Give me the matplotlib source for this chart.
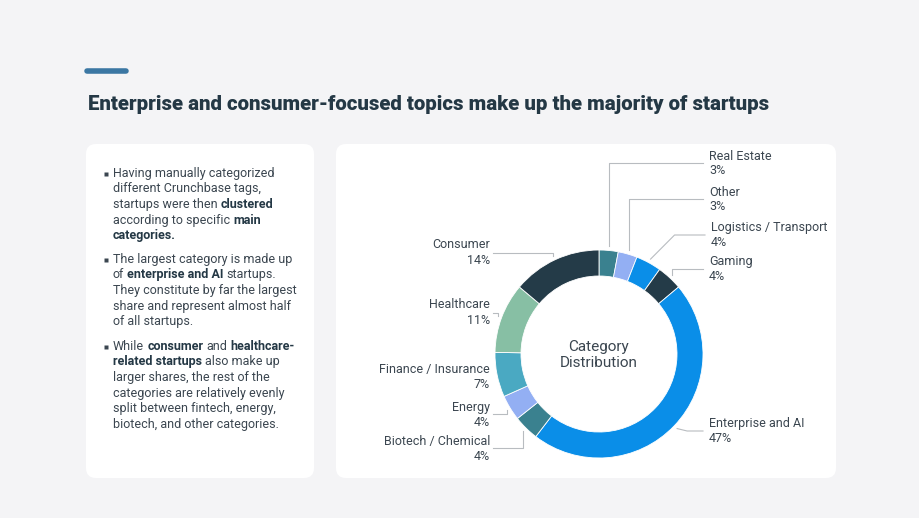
import numpy as np
import matplotlib.pyplot as plt
from matplotlib.patches import FancyBboxPatch

plt.rcParams['font.family'] = ['Roboto', 'DejaVu Sans']

# data
categories = ["Real Estate", "Other", "Logistics / Transport", "Gaming", "Enterprise and AI",
              "Biotech / Chemical", "Energy", "Finance / Insurance", "Healthcare", "Consumer"]
shares = [3, 3, 4, 4, 47, 4, 4, 7, 11, 14]
colors = ["#3a818f", "#93aff3", "#0a8ee8", "#243b48", "#0a8ee8",
          "#3a818f", "#93aff3", "#4aa9c2", "#87bfa4", "#243b48"]

title = "Enterprise and consumer-focused topics make up the majority of startups"
center_label = "Category\nDistribution"

# bullet text: each line is a list of (text, bold)
bullets = [
    [[("Having manually categorized", False)],
     [("different Crunchbase tags,", False)],
     [("startups were then ", False), ("clustered", True)],
     [("according to specific ", False), ("main", True)],
     [("categories.", True)]],
    [[("The largest category is made up", False)],
     [("of ", False), ("enterprise and AI", True), (" startups.", False)],
     [("They constitute by far the largest", False)],
     [("share and represent almost half", False)],
     [("of all startups.", False)]],
    [[("While ", False), ("consumer", True), (" and ", False), ("healthcare-", True)],
     [("related startups", True), (" also make up", False)],
     [("larger shares, the rest of the", False)],
     [("categories are relatively evenly", False)],
     [("split between fintech, energy,", False)],
     [("biotech, and other categories.", False)]],
]

# label layout: side, text x, name line y, leader y, elbow dx
label_layout = {
    "Real Estate": ("R", 709, 156, 163, 0),
    "Other": ("R", 709, 192, 199, 0),
    "Logistics / Transport": ("R", 711, 228, 235, 24),
    "Gaming": ("R", 709, 262, 269, 0),
    "Enterprise and AI": ("R", 709, 424, 431, 10),
    "Biotech / Chemical": ("L", 490, 442, 448, 0),
    "Energy": ("L", 490, 408, 414, 0),
    "Finance / Insurance": ("L", 490, 369, 376, 0),
    "Healthcare": ("L", 490, 305, 313, 0),
    "Consumer": ("L", 490, 245, 253, 0),
}

W, H = 920, 518
CX, CY, R = 599, 354, 104
TEXT = "#3b4650"
DARK = "#243845"
FS = 9

fig = plt.figure(figsize=(W / 100, H / 100), dpi=100)
fig.patch.set_facecolor("#f4f4f6")
bg = fig.add_axes([0, 0, 1, 1])
bg.set_xlim(0, W)
bg.set_ylim(H, 0)
bg.axis("off")

# accent bar and title
bg.plot([87, 126], [70.5, 70.5], color="#3b77a3", lw=4, solid_capstyle="round")
bg.text(88, 105, title, fontsize=14.7, fontweight="heavy", color=DARK, va="center")

# cards
for x0, x1 in [(86, 314), (336, 836)]:
    bg.add_patch(FancyBboxPatch((x0, 144), x1 - x0, 334,
                                boxstyle="round,pad=0,rounding_size=10",
                                fc="white", ec="none"))

# bullet text with inline bold
fig.canvas.draw()
rend = fig.canvas.get_renderer()


def text_w(s, bold):
    t = bg.text(0, 0, s, fontsize=FS, fontweight="bold" if bold else "normal")
    w = t.get_window_extent(rend).width
    t.remove()
    return w


space_w = text_w("a a", False) - text_w("aa", False)
starts = [173, 259, 346]
step = 15.7
for b, y0 in zip(bullets, starts):
    bg.plot([106], [y0 + 0.5], marker="s", ms=2.2, color=TEXT, mec="none")
    for i, line in enumerate(b):
        y = y0 + i * step
        x = 113
        for seg, bold in line:
            core = seg.strip(" ")
            lead = len(seg) - len(seg.lstrip(" "))
            trail = len(seg) - len(seg.rstrip(" "))
            x += lead * space_w
            bg.text(x, y, core, fontsize=FS, va="center",
                    fontweight="bold" if bold else "normal",
                    color=DARK if bold else TEXT)
            x += text_w(core, bold) + trail * space_w

# donut
ax = fig.add_axes([(CX - R) / W, 1 - (CY + R) / H, 2 * R / W, 2 * R / H])
wedges, _ = ax.pie(shares, colors=colors, startangle=90, counterclock=False,
                   radius=1, wedgeprops=dict(width=0.25, edgecolor="white", linewidth=0.6))
ax.set_xlim(-1, 1)
ax.set_ylim(-1, 1)
ax.set_aspect("equal")
ax.axis("off")
ax.text(0, -0.01, center_label, ha="center", va="center", fontsize=11,
        color=TEXT, linespacing=1.25)

# labels with leader lines
for wdg, name, val in zip(wedges, categories, shares):
    side, tx, ty, ly, dx = label_layout[name]
    mid = np.deg2rad((wdg.theta1 + wdg.theta2) / 2)
    ax_x = CX + (R + 4) * np.cos(mid)
    ax_y = CY - (R + 4) * np.sin(mid)
    if side == "R":
        end_x = tx - 6
        ha = "left"
        ex = ax_x + dx
    else:
        end_x = tx + 3
        ha = "right"
        ex = ax_x - dx
    bg.plot([ax_x, ex, end_x], [ax_y, ly, ly], color="#b8bcc0", lw=0.8, zorder=1)
    bg.text(tx, ty, name, fontsize=FS, color=TEXT, ha=ha, va="center")
    bg.text(tx, ty + 15, f"{val}%", fontsize=FS, color=TEXT, ha=ha, va="center")

fig.savefig("out.png", dpi=100, facecolor=fig.get_facecolor())
